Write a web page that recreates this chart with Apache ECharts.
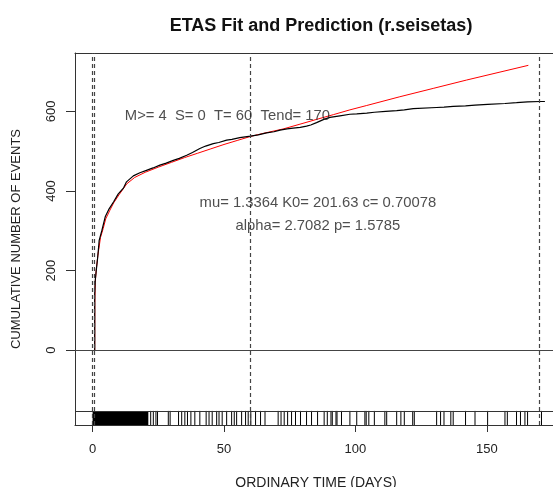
<!DOCTYPE html>
<html><head><meta charset="utf-8">
<script src="https://cdn.jsdelivr.net/npm/echarts@6/dist/echarts.min.js"></script>
<style>html,body{margin:0;padding:0;background:#fff}#c{width:553px;height:487px}</style>
</head><body><div id="c"></div>
<script>
// ---------- data ----------
const titleText = 'ETAS Fit and Prediction (r.seisetas)';
const xAxisTitle = 'ORDINARY TIME (DAYS)';
const yAxisTitle = 'CUMULATIVE NUMBER OF EVENTS';
const xTickValues = [0, 50, 100, 150];
const yTickValues = [0, 200, 400, 600];
const xRange = [-6.7, 176.7];
const yRange = [-188.4, 747];

// observed cumulative number of events [day, count]
const observed = [
  [0.8,0],[0.8,140],[1.0,175],[1.4,201],[1.9,231],[2.3,260],[2.5,276],[3.5,300],[4.8,335],
  [6.1,353],[8.0,373],[9.7,392],[11.8,408],[12.9,423],[15.5,438],[18,446],[20.5,452],
  [23,458],[25.6,465],[28,470],[30.7,477],[33,482],[35.8,490],[38,497],[40.8,507],[43,513],
  [45.9,519],[48,522],[51,528],[53,530],[56,534],[60.1,538],[63,541],[66.2,546],[69,549],
  [71.3,553],[74,556],[76.3,558],[79,560],[81.4,563],[83,566],[85.2,572],[88,580],[90.3,585],
  [94.1,589],[97.9,593],[100.5,594],[104.3,596],[107.2,598],[111.5,600],[115.7,602],
  [118.6,604],[122,607],[130.9,610],[133.7,611],[137.2,613],[141.9,614],[145.5,616],
  [150.3,618],[156.9,620],[161.3,622],[165.5,624],[170.2,625],[172.1,625]
];

// ETAS fitted / predicted cumulative number [day, count]
const fitted = [
  [0.8,0],[0.85,120],[1.0,170],[1.4,203],[2,238],[3,283],[4,305],[5,330],[6.6,352],[8,370],
  [10,390],[13,418],[16,434],[20,447],[25,460],[30,472],[35,484],[40,495],[45,506],[50,517],
  [55,527],[60,537],[65,545],[72.5,556],[78.9,568],[85.2,580],[91.6,592],[97.9,604],
  [104.3,615],[116.9,637],[129.6,658],[142.3,679],[155,699],[165.8,716]
];

// event times shown in the rug strip (sparse part)
const rugTimes = [
  22.1,23.1,24.1,24.7,28.8,29.5,32.7,33.9,35.1,36.1,37.4,38.9,40.8,43.2,44.3,45.5,47.2,48.1,
  49.3,51.0,52.9,53.9,54.8,56.7,58.2,59.2,60.2,62.0,63.9,65.6,70.6,71.7,72.9,74.2,75.7,77.2,
  79.1,81.4,83.3,85.6,88.1,89.3,90.7,91.2,92.6,93.0,94.7,97.9,100.5,103.6,104.1,105.1,107.2,
  111.2,111.9,115.7,117.3,118.6,121.8,122.4,130.9,132.4,133.7,136.3,137.2,141.9,145.5,150.3,
  156.9,157.8,161.3,162.8,164.5,165.5,170.8
];
// the densely packed rug interval (solid black in the picture)
const rugDenseSpan = [0, 21.2];
const rugTopValue = -153;

// vertical dashed lines: S, first event, T, Tend
const markerTimes = [0, 0.8, 60, 170];

const infoLine1 = 'M>= 4  S= 0  T= 60  Tend= 170';
const infoLine2 = 'mu= 1.3364 K0= 201.63 c= 0.70078';
const infoLine3 = 'alpha= 2.7082 p= 1.5785';

// ---------- chart ----------
const chart = echarts.init(document.getElementById('c'), null, {renderer: 'canvas'});
const FONT = 'Liberation Sans, Arial, sans-serif';
const TXT = '#222';
const BOX = '#333';

const option = {
  animation: false,
  backgroundColor: '#fff',
  title: {
    text: titleText, left: 316, top: 12, textAlign: 'center',
    textStyle: {fontFamily: FONT, fontWeight: 'bold', fontSize: 18, color: '#111'}
  },
  grid: {left: 75, top: 53, width: 482, height: 372, show: false,
         containLabel: false, outerBoundsMode: 'none'},
  xAxis: [{
    type: 'value', min: xRange[0], max: xRange[1], position: 'bottom',
    name: xAxisTitle, nameLocation: 'middle', nameGap: 51,
    nameTextStyle: {fontFamily: FONT, fontSize: 14, color: TXT},
    axisLine: {show: true, onZero: false, lineStyle: {color: BOX, width: 1}},
    splitLine: {show: false},
    axisTick: {show: true, inside: false, length: 7, customValues: xTickValues, lineStyle: {color: BOX}},
    axisLabel: {show: true, customValues: xTickValues, margin: 18, fontFamily: FONT, fontSize: 13, color: TXT}
  }, {
    type: 'value', min: xRange[0], max: xRange[1], position: 'top',
    axisLine: {show: true, onZero: false, lineStyle: {color: BOX, width: 1}},
    splitLine: {show: false}, axisTick: {show: false}, axisLabel: {show: false}
  }],
  yAxis: {
    type: 'value', min: yRange[0], max: yRange[1], position: 'left',
    name: yAxisTitle, nameLocation: 'middle', nameGap: 52,
    nameTextStyle: {fontFamily: FONT, fontSize: 13, color: TXT},
    axisLine: {show: true, onZero: false, lineStyle: {color: BOX, width: 1}},
    splitLine: {show: false},
    axisTick: {show: true, inside: false, length: 9, customValues: yTickValues, lineStyle: {color: BOX}},
    axisLabel: {show: true, customValues: yTickValues, rotate: 90, margin: 17, fontFamily: FONT, fontSize: 13, color: TXT}
  },
  series: [
    {
      type: 'line', data: fitted, showSymbol: false, symbol: 'none',
      lineStyle: {color: '#ff0000', width: 1}, silent: true, z: 3
    },
    {
      type: 'line', data: observed, showSymbol: false, symbol: 'none',
      lineStyle: {color: '#000', width: 1.2}, silent: true, z: 4,
      markLine: {
        silent: true, symbol: 'none', label: {show: false},
        data: [
          {yAxis: 0, lineStyle: {color: '#444', type: 'solid', width: 1}},
          {yAxis: rugTopValue, lineStyle: {color: BOX, type: 'solid', width: 1}}
        ].concat(markerTimes.map(t => ({xAxis: t, lineStyle: {color: '#444', type: [4, 3], width: 1.2}})))
      }
    },
    {
      type: 'custom', silent: true, z: 2,
      data: rugTimes.map(t => [t, rugTopValue]),
      renderItem(params, api) {
        const t = api.value(0);
        const p1 = api.coord([t, rugTopValue]);
        const p2 = api.coord([t, yRange[0]]);
        return {type: 'line', shape: {x1: p1[0], y1: p1[1], x2: p2[0], y2: p2[1]}, style: {stroke: '#000', lineWidth: 1}};
      }
    },
    {
      type: 'custom', silent: true, z: 2,
      data: [[rugDenseSpan[0], rugDenseSpan[1]]],
      renderItem(params, api) {
        const a = api.coord([api.value(0), rugTopValue]);
        const b = api.coord([api.value(1), yRange[0]]);
        return {type: 'rect', shape: {x: a[0], y: a[1], width: b[0] - a[0], height: b[1] - a[1]}, style: {fill: '#000'}};
      }
    },
    {
      type: 'scatter', symbolSize: 0, silent: true, z: 6,
      data: [
        {value: [51.3, 590], label: {formatter: infoLine1}},
        {value: [85.7, 370], label: {formatter: infoLine2}},
        {value: [85.7, 313], label: {formatter: infoLine3}}
      ],
      label: {show: true, position: 'inside', fontFamily: FONT, fontSize: 14.8, color: TXT}
    }
  ]
};
chart.setOption(option);
</script>
</body></html>
